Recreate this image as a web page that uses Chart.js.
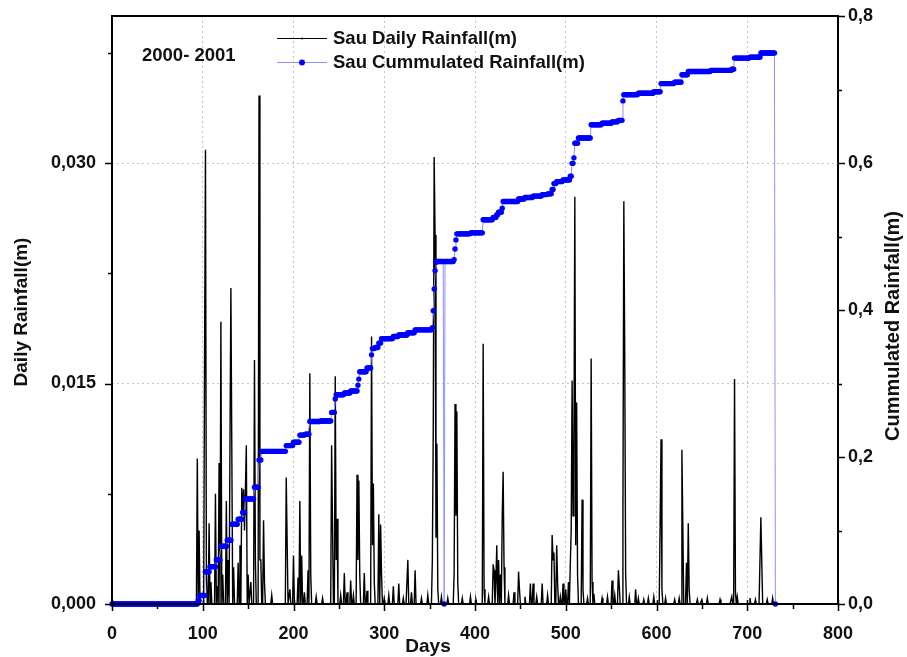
<!DOCTYPE html>
<html>
<head>
<meta charset="utf-8">
<script src="https://cdn.jsdelivr.net/npm/chart.js@4.4.1/dist/chart.umd.min.js"></script>
<style>
  html, body { margin: 0; padding: 0; background: #fff; }
  canvas { display: block; }
</style>
</head>
<body>
<canvas id="chart" width="907" height="657"></canvas>
<script>
// daily rainfall (m), only rain days listed; all other days are 0
const rainDays = [94, 96, 102, 103, 104, 107, 109, 114, 116, 118, 120, 122, 126, 128, 131, 132, 134, 139, 141, 143, 144, 145, 146, 147, 148, 150, 153, 157, 158, 162, 163, 164, 167, 168, 176,
  192, 193, 196, 200, 205, 207, 209, 212, 216, 218, 219, 225, 232, 242, 243, 246, 247, 248, 252, 256, 259, 263, 266, 270, 271, 272, 273, 278, 281, 286, 287, 288, 289, 294, 296, 297,
  300, 305, 310, 316, 321, 326, 330, 334, 341, 348, 353, 354, 355, 356, 357, 358, 359, 363, 370, 377, 378, 379, 380, 381, 386, 395, 401, 409, 410, 415, 420, 421, 423, 424, 426, 428, 430, 431, 432, 437, 443, 448, 449, 455,
  461, 464, 468, 474, 480, 485, 486, 487, 490, 491, 494, 497, 500, 503, 505, 506, 507, 508, 509, 510, 511, 512, 513, 518, 519, 524, 528, 529, 531, 540, 546, 551, 554, 558, 559, 563, 564, 565, 566, 570, 577, 580, 586, 591, 597,
  604, 605, 606, 610, 620, 625, 628, 629, 633, 635, 636, 645, 650, 656, 670, 683, 686, 687, 689, 703, 709, 715, 716, 722, 728];
const rainVals = [0.0099, 0.0050, 0.0169, 0.0309, 0.0022, 0.0055, 0.0015, 0.0075, 0.0012, 0.0096, 0.0192, 0.0020, 0.0070, 0.0030, 0.0215, 0.0107, 0.0025, 0.0028, 0.0040, 0.0079, 0.0060, 0.0078, 0.0050, 0.0077, 0.0108, 0.0020, 0.0015, 0.0166, 0.0030, 0.0346, 0.0030, 0.0030, 0.0057, 0.0015, 0.0006,
  0.0086, 0.0042, 0.0010, 0.0033, 0.0018, 0.0070, 0.0033, 0.0008, 0.0023, 0.0157, 0.0020, 0.0005, 0.0004, 0.0108, 0.0053, 0.0155, 0.0030, 0.0058, 0.0006, 0.0021, 0.0008, 0.0016, 0.0006, 0.0088, 0.0030, 0.0084, 0.0020, 0.0021, 0.0009, 0.0182, 0.0040, 0.0082, 0.0015, 0.0061, 0.0054, 0.0020,
  0.0004, 0.0006, 0.0012, 0.0014, 0.0004, 0.0030, 0.0008, 0.0023, 0.0004, 0.0006, 0.0030, 0.0119, 0.0304, 0.0251, 0.0045, 0.0109, 0.0010, 0.0005, 0.0004, 0.0021, 0.0136, 0.0060, 0.0131, 0.0015, 0.0004, 0.0005, 0.0003, 0.0177, 0.0010, 0.0005, 0.0027, 0.0023, 0.0015, 0.0040, 0.0030, 0.0020, 0.0060, 0.0090, 0.0025, 0.0006, 0.0008, 0.0022, 0.0010, 0.0005,
  0.0014, 0.0014, 0.0005, 0.0014, 0.0006, 0.0047, 0.0030, 0.0035, 0.0040, 0.0015, 0.0005, 0.0014, 0.0010, 0.0015, 0.0027, 0.0050, 0.0152, 0.0060, 0.0100, 0.0277, 0.0040, 0.0137, 0.0020, 0.0071, 0.0010, 0.0004, 0.0167, 0.0015, 0.0007, 0.0004, 0.0005, 0.0016, 0.0006, 0.0023, 0.0012, 0.0060, 0.0274, 0.0169, 0.0020, 0.0005, 0.0010, 0.0004, 0.0003, 0.0004, 0.0005,
  0.0055, 0.0112, 0.0010, 0.0004, 0.0003, 0.0004, 0.0105, 0.0053, 0.0028, 0.0055, 0.0010, 0.0003, 0.0003, 0.0004, 0.0003, 0.0005, 0.0153, 0.0008, 0.0005, 0.0004, 0.0003, 0.0059, 0.0029, 0.0003, 0.0004];

// cumulated rainfall (m): level reached on each listed day, held until the next one
const cumDays = [0, 95, 97, 103, 108, 115, 120, 127, 132, 139, 144, 147, 157, 162, 165, 192, 200, 207, 213, 218, 230, 242, 246, 247, 256, 263, 271, 272, 273, 281, 286, 287, 290, 294, 297, 310, 316, 326, 334, 353,
  354, 355, 356, 357, 358, 366, 367, 377, 378, 379, 380, 395, 409, 420, 424, 426, 430, 431, 448, 455, 464, 474, 480, 485, 487, 490, 497, 505, 507, 509, 510, 514, 528, 540, 551, 558, 563, 564, 580, 597,
  605, 620, 628, 635, 660, 683, 686, 703, 715, 731];
const cumVals = [0, 0.0046, 0.0115, 0.0438, 0.0508, 0.060, 0.0785, 0.0868, 0.1085, 0.1154, 0.1246, 0.143, 0.159, 0.196, 0.2077, 0.2155, 0.220, 0.2298, 0.231, 0.2483, 0.249, 0.2607, 0.279, 0.2847, 0.287, 0.2898, 0.2977, 0.306, 0.316, 0.321, 0.339, 0.3475, 0.349, 0.355, 0.361, 0.364, 0.366, 0.369, 0.373, 0.376,
  0.399, 0.4286, 0.4536, 0.465, 0.466, 0, 0.466, 0.4686, 0.483, 0.4954, 0.5036, 0.505, 0.5227, 0.526, 0.5295, 0.533, 0.5386, 0.5477, 0.551, 0.553, 0.555, 0.557, 0.558, 0.564, 0.572, 0.5747, 0.577, 0.582, 0.5995, 0.607, 0.627, 0.634, 0.652, 0.654, 0.656, 0.658, 0.6845, 0.693, 0.695, 0.697,
  0.708, 0.710, 0.720, 0.7245, 0.726, 0.7276, 0.7427, 0.744, 0.7497, 0];

const xTicks = [0, 100, 200, 300, 400, 500, 600, 700, 800];
const yLeftTicks = [0, 0.015, 0.030];
const yRightTicks = [0, 0.2, 0.4, 0.6, 0.8];
const seriesNames = ['Sau Daily Rainfall(m)', 'Sau Cummulated Rainfall(m)'];
const periodLabel = '2000- 2001';

const lastDay = cumDays[cumDays.length - 1];
const dailyPts = [];
for (let d = 0; d <= lastDay; d++) dailyPts.push({ x: d, y: 0 });
rainDays.forEach((d, i) => { dailyPts[d].y = rainVals[i]; });

const cumPts = [];
let k = 0;
for (let d = 0; d <= lastDay; d++) {
    while (k + 1 < cumDays.length && cumDays[k + 1] <= d) k++;
    cumPts.push({ x: d, y: cumVals[k] });
}

const FONT = "'Liberation Sans', Arial, sans-serif";
const comma = (v, n) => v.toFixed(n).replace('.', ',');

const frame = {
    id: 'frame',
    afterDraw(chart) {
        const { ctx, chartArea: a, scales } = chart;
        const sx = scales.x, yl = scales.y, yr = scales.y2;
        ctx.save();
        ctx.strokeStyle = '#000';
        ctx.lineWidth = 1.5;
        ctx.beginPath();
        // x ticks: major ones cross the axis, minor ones below it
        xTicks.forEach((v, i) => {
            const p = Math.round(sx.getPixelForValue(v)) + 0.5;
            ctx.moveTo(p, a.bottom - 4); ctx.lineTo(p, a.bottom + 7);
            if (i < xTicks.length - 1) {
                const m = Math.round(sx.getPixelForValue(v + 50)) + 0.5;
                ctx.moveTo(m, a.bottom); ctx.lineTo(m, a.bottom + 5);
            }
        });
        yLeftTicks.forEach(v => {
            const p = Math.round(yl.getPixelForValue(v)) + 0.5;
            ctx.moveTo(a.left - 7, p); ctx.lineTo(a.left, p);
            const m = Math.round(yl.getPixelForValue(v + 0.0075)) + 0.5;
            ctx.moveTo(a.left - 4, m); ctx.lineTo(a.left, m);
        });
        yRightTicks.forEach((v, i) => {
            const p = Math.round(yr.getPixelForValue(v)) + 0.5;
            ctx.moveTo(a.right, p); ctx.lineTo(a.right + 7, p);
            if (i < yRightTicks.length - 1) {
                const m = Math.round(yr.getPixelForValue(v + 0.1)) + 0.5;
                ctx.moveTo(a.right, m); ctx.lineTo(a.right + 4, m);
            }
        });
        ctx.stroke();
        ctx.lineWidth = 2;
        ctx.strokeRect(a.left, a.top, a.right - a.left, a.bottom - a.top);

        // axis titles
        ctx.fillStyle = '#111';
        ctx.font = 'bold 19px ' + FONT;
        ctx.textAlign = 'center';
        ctx.textBaseline = 'middle';
        ctx.fillText('Days', 428, 647);
        ctx.save();
        ctx.translate(22, 312); ctx.rotate(-Math.PI / 2);
        ctx.fillText('Daily Rainfall(m)', 0, 0);
        ctx.restore();
        ctx.save();
        ctx.translate(893, 326); ctx.rotate(-Math.PI / 2);
        ctx.font = 'bold 20px ' + FONT;
        ctx.fillText('Cummulated Rainfall(m)', 0, 0);
        ctx.restore();

        // legend
        ctx.font = 'bold 18.5px ' + FONT;
        ctx.textAlign = 'left';
        ctx.fillText(periodLabel, 142, 56);
        ctx.lineWidth = 1;
        ctx.strokeStyle = '#000';
        ctx.beginPath(); ctx.moveTo(277, 38.5); ctx.lineTo(327, 38.5); ctx.stroke();
        ctx.fillStyle = '#000';
        ctx.beginPath(); ctx.arc(302, 38.5, 1, 0, Math.PI * 2); ctx.fill();
        ctx.strokeStyle = '#8f8fff';
        ctx.beginPath(); ctx.moveTo(277, 62.5); ctx.lineTo(327, 62.5); ctx.stroke();
        ctx.fillStyle = '#0000ff';
        ctx.beginPath(); ctx.arc(302, 62.5, 3, 0, Math.PI * 2); ctx.fill();
        ctx.fillStyle = '#111';
        ctx.fillText(seriesNames[0], 333, 39);
        ctx.fillText(seriesNames[1], 333, 63);
        ctx.restore();
    }
};

const gridDash = [2, 3];
const gridColor = '#c4c4c4';
const tickFont = { family: FONT, size: 18, weight: 'bold' };
const noPad = s => { s.paddingTop = 0; s.paddingBottom = 0; s.paddingLeft = 0; s.paddingRight = 0; };

new Chart(document.getElementById('chart'), {
    type: 'line',
    data: {
        datasets: [
            { label: seriesNames[0], data: dailyPts, yAxisID: 'y', borderColor: '#000', borderWidth: 1.4, pointRadius: 0, tension: 0, order: 1 },
            { label: seriesNames[1], data: cumPts, yAxisID: 'y2', borderColor: '#8f8fff', borderWidth: 1, pointRadius: 2.7, pointBorderWidth: 0,
              pointBackgroundColor: '#0000ff', pointBorderColor: '#0000ff', tension: 0, order: 0, clip: 4 }
        ]
    },
    options: {
        responsive: false,
        animation: false,
        devicePixelRatio: 1,
        layout: { padding: { top: 16, left: 0, right: 0, bottom: 0 } },
        plugins: { legend: { display: false }, tooltip: { enabled: false } },
        scales: {
            x: {
                type: 'linear', min: 0, max: 800,
                afterFit: s => { noPad(s); s.height = 53; },
                ticks: { stepSize: 100, padding: 19, color: '#111', font: tickFont, callback: v => String(v) },
                grid: { drawTicks: false, lineWidth: 1, color: c => (c.tick && c.tick.value > 0 && c.tick.value < 800) ? gridColor : 'rgba(0,0,0,0)' },
                border: { display: false, dash: gridDash }
            },
            y: {
                type: 'linear', position: 'left', min: 0, max: 0.04,
                afterFit: s => { noPad(s); s.width = 112; },
                ticks: { stepSize: 0.015, includeBounds: false, padding: 16, color: '#111', font: tickFont, callback: v => comma(v, 3) },
                grid: { drawTicks: false, lineWidth: 1, color: c => (c.tick && c.tick.value > 0) ? gridColor : 'rgba(0,0,0,0)' },
                border: { display: false, dash: gridDash }
            },
            y2: {
                type: 'linear', position: 'right', min: 0, max: 0.8,
                afterFit: s => { noPad(s); s.width = 69; },
                ticks: { stepSize: 0.2, padding: 10, color: '#111', font: tickFont, callback: v => comma(v, 1) },
                grid: { drawOnChartArea: false, drawTicks: false },
                border: { display: false }
            }
        }
    },
    plugins: [frame]
});
</script>
</body>
</html>
